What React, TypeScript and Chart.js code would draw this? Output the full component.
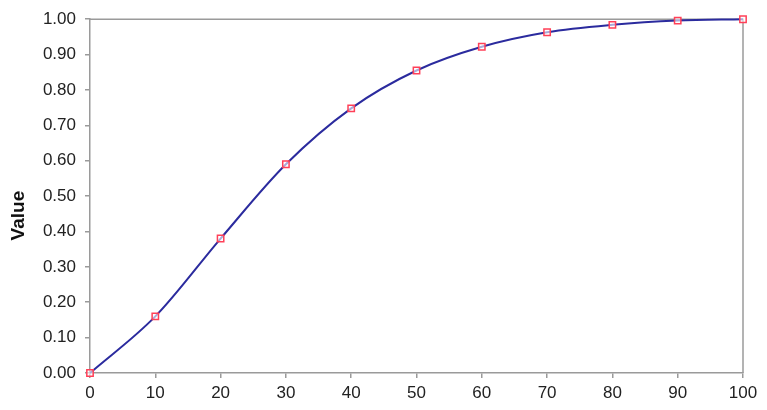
import React, { useEffect, useRef } from "react";
import { Chart, registerables } from "chart.js";

Chart.register(...registerables);

const xValues = [0, 10, 20, 30, 40, 50, 60, 70, 80, 90, 100];
const yValues = [0.0, 0.16, 0.38, 0.59, 0.748, 0.855, 0.922, 0.963, 0.984, 0.996, 1.0];
const yTitle = "Value";

const FONT = "'Liberation Sans', Arial, sans-serif";

const frame = {
  id: "frame",
  beforeDatasetsDraw(chart: any) {
    const { ctx, chartArea } = chart;
    ctx.save();
    ctx.strokeStyle = "#9a9a9a";
    ctx.lineWidth = 1.5;
    ctx.beginPath();
    ctx.moveTo(chartArea.left, chartArea.top);
    ctx.lineTo(chartArea.right, chartArea.top);
    ctx.lineTo(chartArea.right, chartArea.bottom);
    ctx.stroke();
    ctx.restore();
  },
  afterDraw(chart: any) {
    const { ctx, chartArea } = chart;
    ctx.save();
    ctx.translate(19, chartArea.top + (chartArea.bottom - chartArea.top) * 0.555);
    ctx.rotate(-Math.PI / 2);
    ctx.font = `bold 19px ${FONT}`;
    ctx.fillStyle = "#111";
    ctx.textAlign = "center";
    ctx.textBaseline = "middle";
    ctx.fillText(yTitle, 0, 0);
    ctx.restore();
  },
};

export default function App() {
  const ref = useRef<HTMLCanvasElement | null>(null);
  useEffect(() => {
    document.body.style.margin = "0";
    const chart = new Chart(ref.current as HTMLCanvasElement, {
      type: "line",
      data: {
        datasets: [
          {
            data: xValues.map((x, i) => ({ x, y: yValues[i] })),
            borderColor: "#2b2b9e",
            borderWidth: 2,
            cubicInterpolationMode: "monotone",
            pointStyle: "rect",
            pointRadius: 4.5,
            pointBorderColor: "#ff4058",
            pointBackgroundColor: "rgba(255,255,255,0.6)",
            pointBorderWidth: 1.5,
            fill: false,
            clip: false,
          },
        ],
      },
      options: {
        animation: false,
        responsive: false,
        maintainAspectRatio: false,
        layout: { padding: { left: 0, top: 19, right: 24, bottom: 0 } },
        plugins: { legend: { display: false }, tooltip: { enabled: false } },
        scales: {
          x: {
            type: "linear",
            min: 0,
            max: 100,
            afterFit(scale: any) {
              scale.height = 37;
            },
            ticks: {
              stepSize: 10,
              color: "#222",
              font: { family: FONT, size: 17 },
              padding: 5,
              maxRotation: 0,
            },
            grid: {
              drawOnChartArea: false,
              drawTicks: true,
              tickLength: 5,
              color: "#9a9a9a",
              lineWidth: 1.5,
            },
            border: { color: "#9a9a9a", width: 1.5 },
          },
          y: {
            type: "linear",
            min: 0,
            max: 1,
            afterFit(scale: any) {
              scale.width = 90;
            },
            ticks: {
              stepSize: 0.1,
              color: "#222",
              font: { family: FONT, size: 17 },
              padding: 9,
              callback: (v: any) => Number(v).toFixed(2),
            },
            grid: {
              drawOnChartArea: false,
              drawTicks: true,
              tickLength: 5,
              color: "#9a9a9a",
              lineWidth: 1.5,
            },
            border: { color: "#9a9a9a", width: 1.5 },
          },
        },
      },
      plugins: [frame],
    });
    return () => chart.destroy();
  }, []);
  return (
    <div style={{ width: 767, height: 410, background: "#fff" }}>
      <canvas ref={ref} width={767} height={410} style={{ display: "block" }} />
    </div>
  );
}
